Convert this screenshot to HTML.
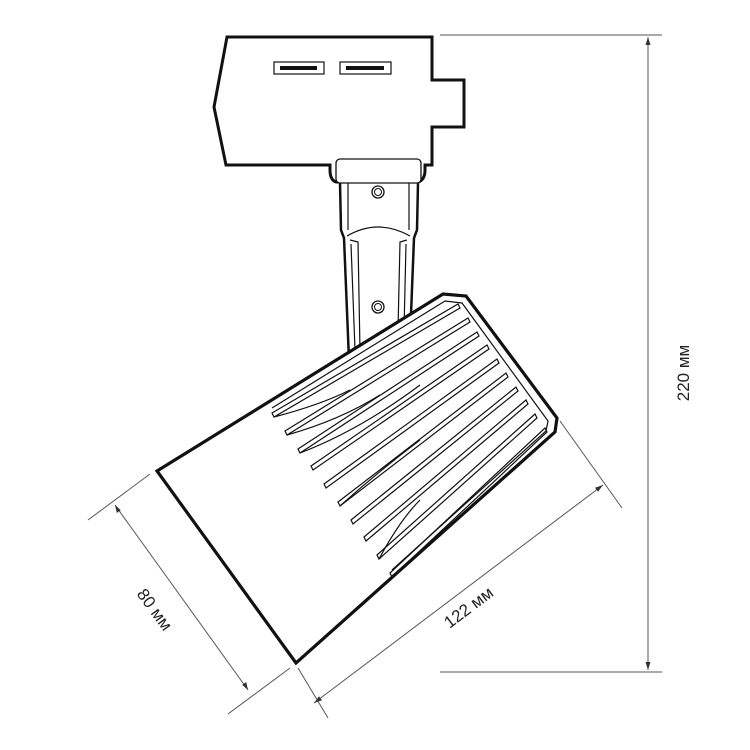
<!DOCTYPE html>
<html><head><meta charset="utf-8"><style>html,body{margin:0;padding:0;background:#fff}svg{display:block}</style></head>
<body>
<svg width="750" height="750" viewBox="0 0 750 750" xmlns="http://www.w3.org/2000/svg">
<g fill="none" stroke="#111" stroke-linejoin="miter">
<path d="M227,37 L432,37 L432,80 L464,80 L464,127 L432,127 L432,165 L425,165 L425,170 Q425,180 418,182 L336,182 Q330,180 330,170 L330,165 L226,165 L214,107 Z" stroke-width="3" fill="#fff"/>
<rect x="274" y="62" width="50" height="12" stroke-width="1.2"/>
<rect x="280" y="66" width="37" height="4" fill="#111" stroke="none"/>
<rect x="340" y="62" width="51" height="12" stroke-width="1.2"/>
<rect x="346" y="66" width="38" height="4" fill="#111" stroke="none"/>
<rect x="336" y="159" width="85" height="24" rx="4" stroke-width="1.3" fill="#fff"/>
<path d="M340,183 L341,230 L344,238 L349,360" stroke-width="2.5"/>
<path d="M418,183 L417,230 L414,238 L410,340" stroke-width="2.5"/>
<path d="M348,183 L348,230 M409,183 L409,230" stroke-width="1.2"/>
<path d="M347,236 Q378,218 410,236" stroke-width="1.2"/>
<path d="M350,240 L358,242 L360,350 M351,244 L355,350" stroke-width="1.2"/>
<path d="M407,240 L400,242 L398,330 M406,244 L404,330" stroke-width="1.2"/>
<circle cx="378" cy="192" r="6" stroke-width="1.3"/><circle cx="378" cy="192" r="3.5" stroke-width="1"/>
<circle cx="378" cy="307" r="6" stroke-width="1.3"/><circle cx="378" cy="307" r="3.5" stroke-width="1"/>
<path d="M157,471 L443,294 L466,296 L557,418 L555,432 L296,663 Z" stroke-width="3.2" fill="#fff"/>
<path d="M272,408 L445,301 L462,303 L548,421 L546,431 L392,570" stroke-width="1.2"/>
<g stroke-width="1.2">
<path d="M272,413 L458,304 L460,308 L274,417 Z"/>
<path d="M285,431 L468,318 L470,322 L287,435 Z"/>
<path d="M298,449 L477,332 L479,336 L300,453 Z"/>
<path d="M311,466 L487,345 L489,349 L313,470 Z"/>
<path d="M324,484 L497,359 L499,363 L326,488 Z"/>
<path d="M338,502 L506,373 L508,377 L340,506 Z"/>
<path d="M351,520 L516,387 L518,391 L353,524 Z"/>
<path d="M364,537 L526,400 L528,404 L366,541 Z"/>
<path d="M377,555 L535,414 L537,418 L379,559 Z"/>
<path d="M390,573 L545,428 L547,432 L392,577 Z"/>
<path d="M274,417 Q320,405 350,390 M287,435 Q340,420 380,395 M300,453 Q360,430 420,385 M340,506 Q380,470 420,440 M379,559 Q400,520 420,500"/>
</g>
</g>
<g stroke="#555" stroke-width="1" fill="none">
<line x1="440" y1="35" x2="662" y2="35"/>
<line x1="440" y1="672" x2="662" y2="672"/>
<line x1="648" y1="37" x2="648" y2="670"/>
<line x1="88" y1="520" x2="150" y2="474"/>
<line x1="228" y1="714" x2="290" y2="668"/>
<line x1="115" y1="505" x2="248" y2="690"/>
<line x1="298" y1="668" x2="328" y2="718"/>
<line x1="560" y1="421" x2="622" y2="508"/>
<line x1="314" y1="703" x2="603" y2="485"/>
</g>
<g fill="#333">
<path d="M648,37 l-2.5,8 h5 z"/><path d="M648,670 l-2.5,-8 h5 z"/>
<path d="M115,505 l1.8,8 l4,-2.9 z"/><path d="M248,690 l-1.8,-8 l-4,2.9 z"/>
<path d="M314,703 l5,-6.8 l3,4 z"/><path d="M603,485 l-5,6.8 l-3,-4 z"/>
</g>
<g font-family="Liberation Sans, sans-serif" font-size="17" fill="#222" text-anchor="middle">
<text transform="translate(689,373) rotate(-90)">220 мм</text>
<text transform="translate(150,613) rotate(54)">80 мм</text>
<text transform="translate(472,612) rotate(-37)">122 мм</text>
</g>
</svg>
</body></html>
